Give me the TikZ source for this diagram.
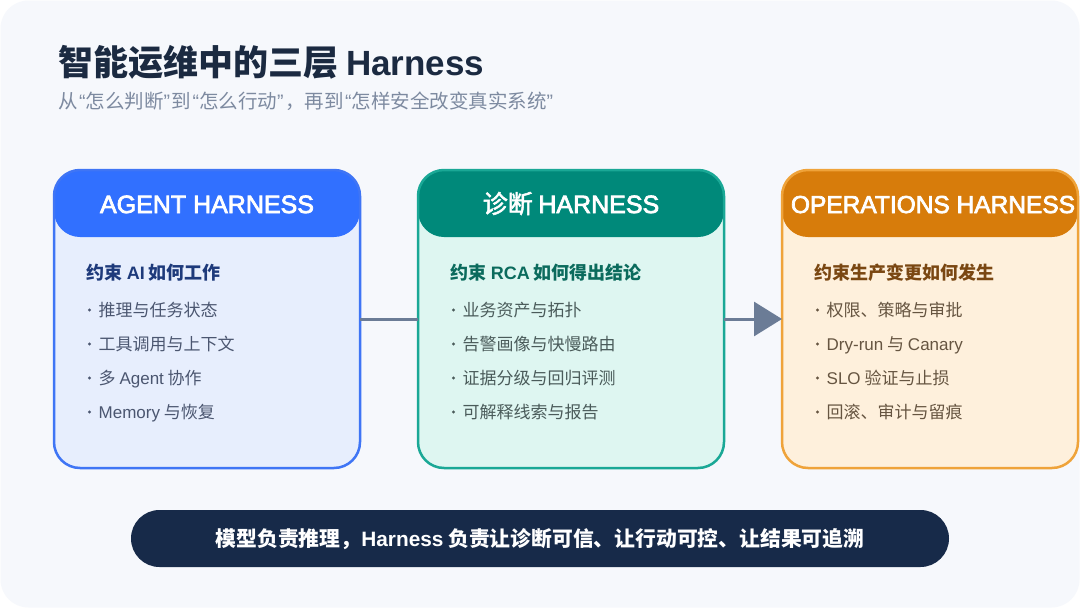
\documentclass[tikz,border=0pt]{standalone}
\usepackage{fontspec}
\setmainfont{Noto Sans CJK SC}
\newfontfamily\lat{Liberation Sans}
\newfontfamily\latmed{Liberation Sans}[FakeBold=3]
\newfontfamily\cjkmed{Noto Sans CJK SC}[FakeBold=2]
\usetikzlibrary{arrows.meta}
\definecolor{cardbg}{HTML}{F6F8FC}
\definecolor{titlec}{HTML}{1B2A41}
\definecolor{subc}{HTML}{7D8AA0}
\definecolor{bAfill}{HTML}{E7EEFD}
\definecolor{bAhead}{HTML}{3170FF}
\definecolor{bAline}{HTML}{3F75F5}
\definecolor{bAsub}{HTML}{1E3A7B}
\definecolor{bAtxt}{HTML}{4B5670}
\definecolor{bBfill}{HTML}{DEF6F1}
\definecolor{bBhead}{HTML}{00897A}
\definecolor{bBline}{HTML}{1AA896}
\definecolor{bBsub}{HTML}{0B6B5D}
\definecolor{bBtxt}{HTML}{4A5B5A}
\definecolor{bCfill}{HTML}{FEF0DC}
\definecolor{bChead}{HTML}{D77C0B}
\definecolor{bCline}{HTML}{EFA33A}
\definecolor{bCsub}{HTML}{7A4712}
\definecolor{bCtxt}{HTML}{665541}
\definecolor{connc}{HTML}{6B7C96}
\definecolor{pillc}{HTML}{172A49}
\newcommand\myLq{\kern1.5pt{\lat “}}
\newcommand\myRq{{\lat ”}\kern1.5pt}
\begin{document}
\begin{tikzpicture}[x=1pt,y=-1pt,
  cardbox/.style={minimum width=306, minimum height=298, rounded corners=26, inner sep=0, outer sep=0},
  headbox/.style={minimum width=306, minimum height=67, rounded corners=26, inner sep=0, outer sep=0, anchor=north},
  headtxt/.style={anchor=base, inner sep=0, text=white, font=\fontsize{25}{30}\selectfont},
  border/.style={line width=2.5, rounded corners=26},
  subhead/.style={anchor=base west, inner sep=0, font=\fontsize{18}{21}\selectfont\bfseries},
  item/.style={anchor=base west, inner sep=0, font=\fontsize{17}{20}\selectfont},
  conn/.style={draw=connc, line width=3},
]
\useasboundingbox (0,0) rectangle (1080,608);
\fill[white] (0,0) rectangle (1080,608);
\fill[cardbg, rounded corners=28] (0.5,0.5) rectangle (1079.5,607.5);

% title
\node[anchor=base west, inner sep=0, text=titlec, font=\fontsize{35}{40}\selectfont\bfseries] (title) at (58,75) {智能运维中的三层 {\lat Harness}};
\node[anchor=base west, inner sep=0, text=subc, font=\fontsize{19.5}{22}\selectfont] (subtitle) at (58,108) {从\myLq 怎么判断\myRq 到\myLq 怎么行动\myRq ，再到\myLq 怎样安全改变真实系统\myRq};

% box A
\node[cardbox, fill=bAfill] (a) at (207,319) {};
\node[headbox, fill=bAhead] (ah) at (a.north) {};
\draw[border, draw=bAline] (a.north west) rectangle (a.south east);
\node[headtxt] (aht) at (207,213) {\latmed AGENT HARNESS};
\node[subhead, text=bAsub] (as) at (86.5,279.5) {约束 {\lat AI} 如何工作};
\node[item, text=bAtxt] (a1) at (98.5,316.5) {推理与任务状态};
\node[item, text=bAtxt] (a2) at (98.5,350.5) {工具调用与上下文};
\node[item, text=bAtxt] (a3) at (98.5,384.5) {多 {\lat Agent} 协作};
\node[item, text=bAtxt] (a4) at (98.5,418.5) {{\lat Memory} 与恢复};
\foreach \yy in {310,344,378,412} \fill[bAtxt] (89.5,\yy) circle (1.6);

% box B
\node[cardbox, fill=bBfill] (b) at (571,319) {};
\node[headbox, fill=bBhead] (bh) at (b.north) {};
\draw[border, draw=bBline] (b.north west) rectangle (b.south east);
\node[headtxt] (bht) at (571,213) {{\cjkmed 诊断} {\latmed HARNESS}};
\node[subhead, text=bBsub] (bs) at (450.5,279.5) {约束 {\lat RCA} 如何得出结论};
\node[item, text=bBtxt] (b1) at (462.5,316.5) {业务资产与拓扑};
\node[item, text=bBtxt] (b2) at (462.5,350.5) {告警画像与快慢路由};
\node[item, text=bBtxt] (b3) at (462.5,384.5) {证据分级与回归评测};
\node[item, text=bBtxt] (b4) at (462.5,418.5) {可解释线索与报告};
\foreach \yy in {310,344,378,412} \fill[bBtxt] (453.5,\yy) circle (1.6);

% box C
\node[cardbox, fill=bCfill, minimum width=296] (c) at (930,319) {};
\node[headbox, fill=bChead, minimum width=296] (ch) at (c.north) {};
\draw[border, draw=bCline] (c.north west) rectangle (c.south east);
\node[headtxt, font=\fontsize{24.5}{30}\selectfont] (cht) at (933,213) {\latmed OPERATIONS HARNESS};
\node[subhead, text=bCsub] (cs) at (814.5,279.5) {约束生产变更如何发生};
\node[item, text=bCtxt] (c1) at (826.5,316.5) {权限、策略与审批};
\node[item, text=bCtxt] (c2) at (826.5,350.5) {{\lat Dry-run} 与 {\lat Canary}};
\node[item, text=bCtxt] (c3) at (826.5,384.5) {{\lat SLO} 验证与止损};
\node[item, text=bCtxt] (c4) at (826.5,418.5) {回滚、审计与留痕};
\foreach \yy in {310,344,378,412} \fill[bCtxt] (817.5,\yy) circle (1.6);

% connectors
\draw[conn] (a.east) -- (b.west);
\draw[conn, -{Triangle[length=28pt,width=34pt]}] (b.east) -- (c.west);

% bottom pill
\node[fill=pillc, minimum width=818, minimum height=57, rounded corners=28.5, inner sep=0] (pill) at (540,538.5) {};
\node[anchor=base, inner sep=0, text=white, font=\fontsize{20.8}{24}\selectfont\bfseries] (pillt) at (540,546.5) {模型负责推理，{\lat Harness} 负责让诊断可信、让行动可控、让结果可追溯};
\end{tikzpicture}
\end{document}
